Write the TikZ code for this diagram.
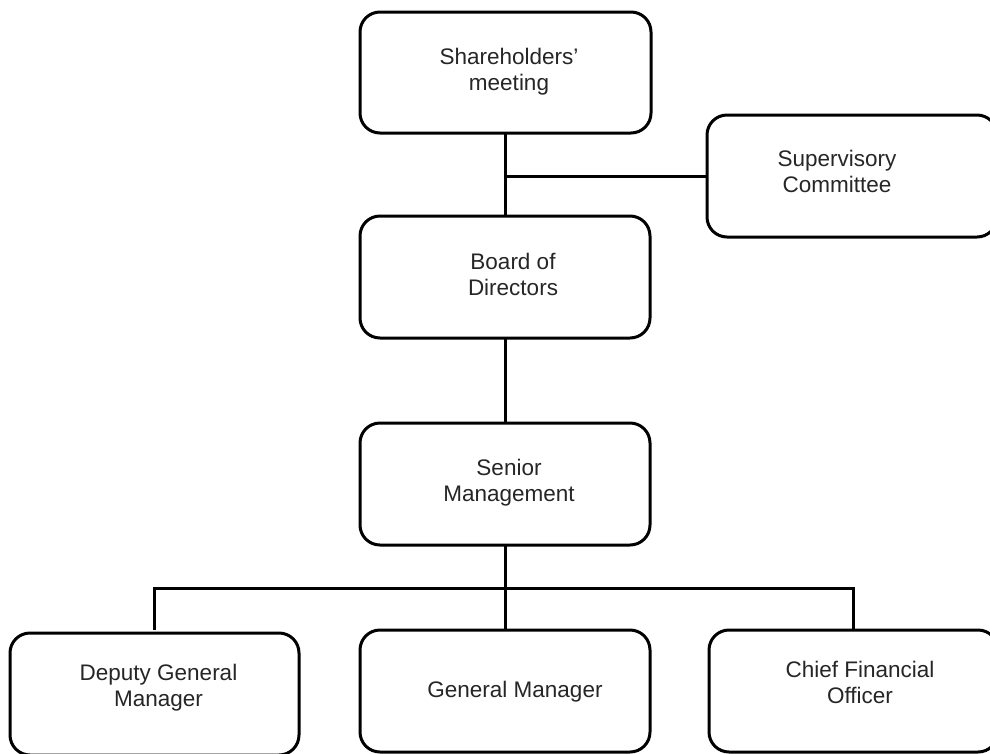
\documentclass[tikz,border=0pt]{standalone}
\usepackage{fontspec}
\setmainfont{Liberation Sans}
\usetikzlibrary{calc}

\tikzset{
  orgbox/.style={draw=black, line width=3pt, rounded corners=20pt, fill=white,
    outer sep=0pt, inner sep=0pt, minimum width=#1, minimum height=122pt},
  orgbox/.default=290pt,
  orgtext/.style={inner sep=0pt, outer sep=0pt, align=center, text=black!85,
    font=\fontsize{22.5}{26}\selectfont},
  link/.style={draw=black, line width=3pt}
}

\begin{document}
\begin{tikzpicture}[x=1pt, y=-1pt]
  \useasboundingbox (0,0) rectangle (990,753);
  \clip (0,0) rectangle (990,753);

  % boxes
  \node[orgbox=291pt, minimum height=121pt] (sh)  at (505.5,72.5) {};
  \node[orgbox]            (sc)  at (852,176)   {};
  \node[orgbox]            (bd)  at (505,277)   {};
  \node[orgbox]            (sm)  at (505,484)   {};
  \node[orgbox=289pt]      (dgm) at (154.5,694) {};
  \node[orgbox]            (gm)  at (505,691)   {};
  \node[orgbox=289pt]      (cfo) at (853.5,691) {};

  % labels
  \node[orgtext] (tsh)  at (509,72.5)  {\strut Shareholders’\\\strut meeting};
  \node[orgtext] (tsc)  at (837,174)   {\strut Supervisory\\\strut Committee};
  \node[orgtext] (tbd)  at (513,277)   {\strut Board of\\\strut Directors};
  \node[orgtext] (tsm)  at (509,483)   {\strut Senior\\\strut Management};
  \node[orgtext] (tdgm) at (158.5,688) {\strut Deputy General\\\strut Manager};
  \node[orgtext] (tgm)  at (515,692)   {\strut General Manager};
  \node[orgtext] (tcfo) at (860,685)   {\strut Chief Financial\\\strut Officer};

  % connectors
  \coordinate (j1)  at (sh.south |- sc.west);
  \coordinate (bus) at ($(sm.south)+(0,43)$);
  \draw[link] (sh.south) -- (sh.south |- bd.north);
  \draw[link] (j1) -- (sc.west);
  \draw[link] (bd.south) -- (bd.south |- sm.north);
  \draw[link] (sm.south) -- (sm.south |- gm.north);
  \draw[link, shorten <=3pt] (dgm.north) -- (dgm.north |- bus) -- (cfo.north |- bus) -- (cfo.north);
\end{tikzpicture}
\end{document}
